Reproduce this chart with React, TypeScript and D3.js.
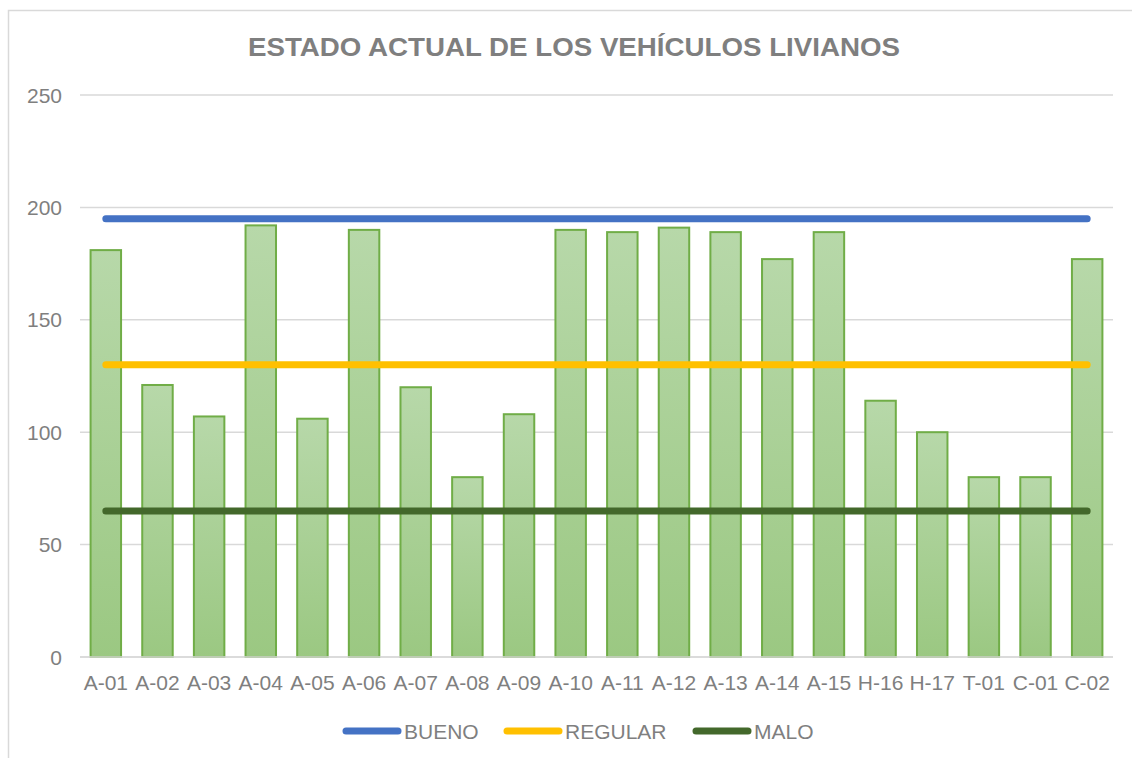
import React from "react";
import * as d3 from "d3";

const categories = ["A-01","A-02","A-03","A-04","A-05","A-06","A-07","A-08","A-09","A-10","A-11","A-12","A-13","A-14","A-15","H-16","H-17","T-01","C-01","C-02"];
const values = [181,121,107,192,106,190,120,80,108,190,189,191,189,177,189,114,100,80,80,177];
const bueno = 195;
const regular = 130;
const malo = 65;
const yTicks = [0,50,100,150,200,250];
const title = "ESTADO ACTUAL DE LOS VEHÍCULOS LIVIANOS";
const legendItems = [
  { name: "BUENO", color: "#4472c4", value: bueno },
  { name: "REGULAR", color: "#ffc000", value: regular },
  { name: "MALO", color: "#43682b", value: malo },
];

export default function App() {
  const W = 1132, H = 758;
  const left = 80, right = 1113, top = 95, bottom = 657;
  const x = d3.scaleBand<string>().domain(categories).range([left, right]).paddingInner(0.41).paddingOuter(0.205);
  const y = d3.scaleLinear().domain([0, 250]).range([bottom, top]);
  const xc = (c: string) => (x(c) as number) + x.bandwidth() / 2;
  const font = "Arial, 'Liberation Sans', sans-serif";
  const legendX = [343, 504, 693];
  return (
    <svg width={W} height={H} style={{ position: "absolute", left: 0, top: 0, display: "block" }} fontFamily={font}>
      <defs>
        <linearGradient id="barGrad" x1="0" y1="0" x2="0" y2="1">
          <stop offset="0" stopColor="#b7d8a9" />
          <stop offset="1" stopColor="#9bc882" />
        </linearGradient>
      </defs>
      <rect x={0} y={0} width={W} height={H} fill="#fff" />
      <rect x={8.5} y={10.5} width={1300} height={900} fill="#fff" stroke="#d9d9d9" strokeWidth={1.5} />
      <text x={574} y={56} textAnchor="middle" fontSize={26} fontWeight="bold" fill="#7f7f7f"
        textLength={652} lengthAdjust="spacingAndGlyphs">{title}</text>
      {yTicks.map((t) => (
        <g key={t}>
          <line x1={left} x2={right} y1={y(t)} y2={y(t)} stroke="#d9d9d9" strokeWidth={1.5} />
          <text x={62} y={y(t) + 7.5} textAnchor="end" fontSize={21} fill="#7f7f7f">{t}</text>
        </g>
      ))}
      {categories.map((c, i) => (
        <rect key={c} x={x(c)} y={y(values[i])} width={x.bandwidth()} height={y(0) - y(values[i])}
          fill="url(#barGrad)" stroke="#70ad47" strokeWidth={2} />
      ))}
      <line x1={left} x2={right} y1={y(0)} y2={y(0)} stroke="#d9d9d9" strokeWidth={1.5} />
      {legendItems.map((s) => (
        <line key={s.name} x1={xc(categories[0])} x2={xc(categories[categories.length - 1])} y1={y(s.value)} y2={y(s.value)}
          stroke={s.color} strokeWidth={7} strokeLinecap="round" />
      ))}
      {categories.map((c) => (
        <text key={c} x={xc(c)} y={690} textAnchor="middle" fontSize={21} fill="#7f7f7f">{c}</text>
      ))}
      {legendItems.map((s, i) => (
        <g key={s.name}>
          <line x1={legendX[i] + 3} x2={legendX[i] + 55} y1={731} y2={731} stroke={s.color} strokeWidth={7} strokeLinecap="round" />
          <text x={legendX[i] + 61} y={738.5} fontSize={21} fill="#7f7f7f">{s.name}</text>
        </g>
      ))}
    </svg>
  );
}
